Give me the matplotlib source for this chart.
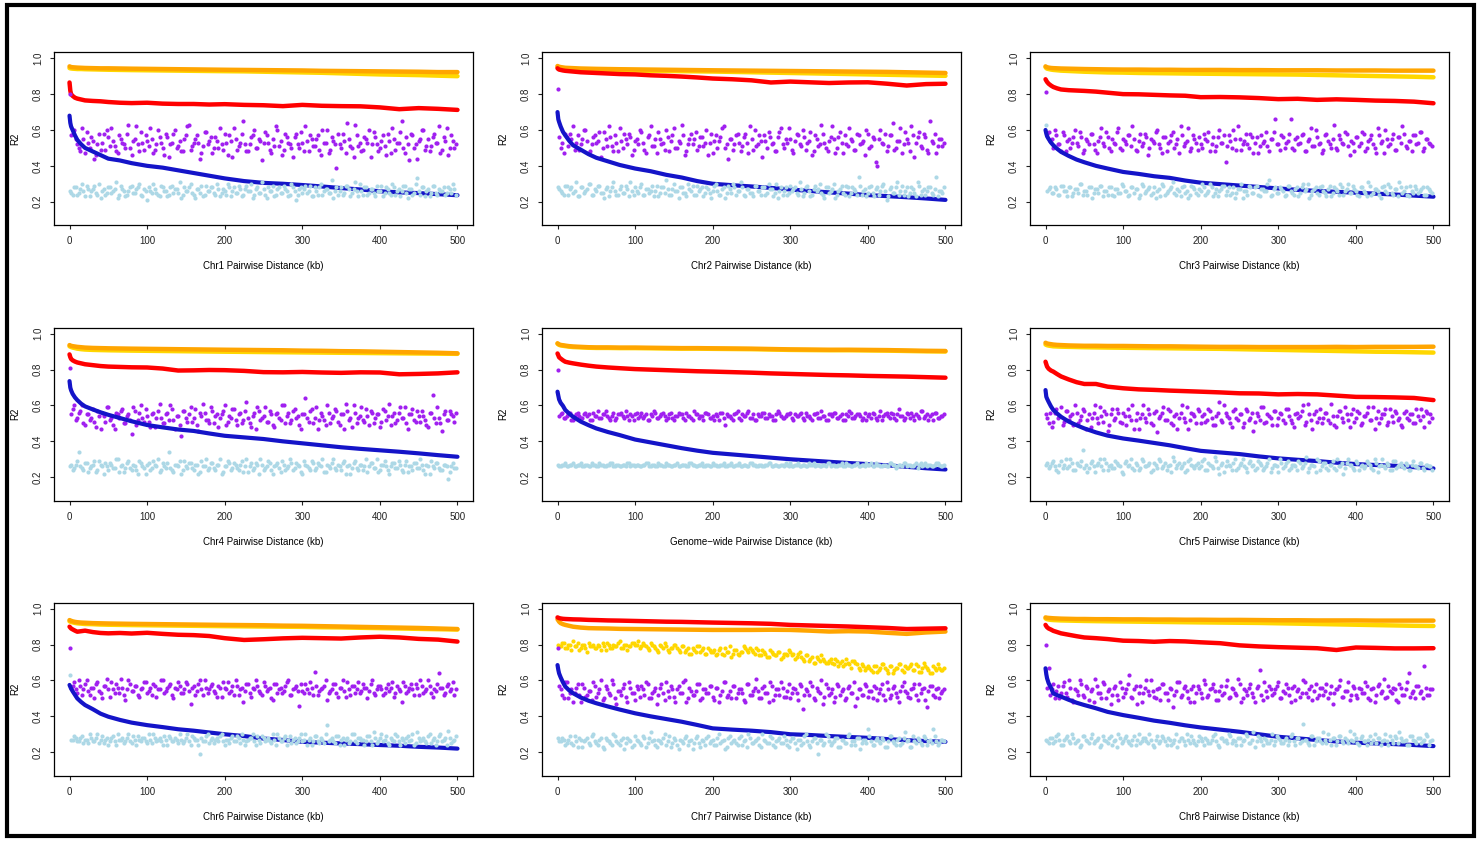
import numpy as np
import matplotlib
matplotlib.use("Agg")
import matplotlib.pyplot as plt
from matplotlib.patches import Rectangle

plt.rcParams['font.family'] = ['Liberation Sans', 'DejaVu Sans']

# pairwise distance (kb) for the smooth series and for the two sets of scattered points
DIST_LINE = [0, 1, 2, 4, 7, 10, 15, 20, 30, 40, 50, 65, 80, 100, 120, 140, 160, 180, 200,
             225, 250, 275, 300, 325, 350, 375, 400, 425, 450, 475, 500]
DIST_CLOUD = list(range(0, 500, 4))
DIST_CLOUD2 = list(range(2, 500, 4))

# ---------------- Chr1 ----------------
CHR1_ORANGE = [0.955, 0.953, 0.951, 0.950, 0.949, 0.948, 0.947, 0.946, 0.945, 0.944, 0.944, 0.943, 0.942, 0.941, 0.940, 0.939,
               0.938, 0.937, 0.936, 0.935, 0.934, 0.933, 0.932, 0.930, 0.929, 0.928, 0.927, 0.926, 0.925, 0.923, 0.923]
CHR1_YELLOW = [0.945, 0.944, 0.943, 0.942, 0.941, 0.940, 0.940, 0.939, 0.938, 0.937, 0.936, 0.935, 0.934, 0.933, 0.932, 0.931,
               0.930, 0.929, 0.928, 0.927, 0.925, 0.923, 0.921, 0.919, 0.916, 0.913, 0.910, 0.908, 0.906, 0.903, 0.900]
CHR1_RED = [0.865, 0.820, 0.800, 0.790, 0.780, 0.775, 0.770, 0.765, 0.762, 0.760, 0.756, 0.752, 0.750, 0.752, 0.747, 0.745,
            0.745, 0.742, 0.744, 0.740, 0.738, 0.733, 0.740, 0.735, 0.733, 0.732, 0.726, 0.716, 0.722, 0.718, 0.712]
CHR1_BLUE = [0.680, 0.640, 0.620, 0.600, 0.570, 0.545, 0.520, 0.500, 0.480, 0.460, 0.440, 0.430, 0.415, 0.400, 0.390, 0.375,
             0.360, 0.345, 0.330, 0.315, 0.305, 0.300, 0.293, 0.285, 0.276, 0.268, 0.258, 0.252, 0.248, 0.242, 0.236]
CHR1_PURPLE = [80, 58, 55, 50, 61, 47, 53, 56, 44, 52, 49, 58, 60, 51, 54, 48, 57, 53, 50, 63, 46, 55, 52, 59, 49,
               54, 61, 47, 52, 56, 50, 58, 45, 53, 60, 51, 48, 55, 62, 49, 53, 57, 44, 51, 59, 54, 47, 56, 50, 52,
               58, 46, 54, 61, 49, 53, 65, 48, 52, 57, 50, 55, 43, 59, 53, 47, 51, 60, 54, 49, 56, 52, 45, 58, 50,
               53, 62, 48, 55, 51, 57, 46, 53, 60, 49, 54, 39, 52, 58, 47, 55, 50, 63, 51, 48, 56, 53, 45, 59, 52,
               50, 57, 46, 54, 61, 49, 53, 65, 47, 52, 58, 50, 44, 55, 60, 51, 48, 56, 53, 62, 49, 54, 46, 57, 50]
CHR1_PURPLE2 = [57, 60, 52, 48, 55, 59, 50, 54, 46, 58, 53, 49, 56, 61, 51, 47, 55, 52, 58, 50, 54, 62, 48, 53, 57,
                51, 55, 49, 60, 53, 46, 56, 52, 58, 50, 54, 48, 57, 63, 51, 55, 53, 47, 59, 52, 56, 50, 54, 61, 49,
                53, 57, 45, 55, 51, 58, 52, 48, 56, 60, 50, 54, 53, 57, 49, 55, 62, 51, 46, 58, 53, 50, 56, 52, 59,
                48, 54, 57, 51, 55, 49, 60, 53, 47, 56, 52, 58, 50, 54, 64, 51, 45, 57, 53, 49, 55, 60, 52, 56, 48,
                54, 51, 58, 47, 55, 53, 59, 50, 56, 43, 57, 52, 54, 60, 49, 55, 51, 58, 53, 47, 56, 61, 50, 54, 52]
CHR1_LIGHTBLUE = [26, 24, 28, 25, 30, 23, 27, 26, 29, 24, 22, 27, 25, 28, 26, 31, 24, 27, 23, 26, 29, 25, 28, 24, 27,
                  21, 26, 30, 25, 23, 28, 26, 24, 29, 27, 25, 22, 28, 26, 30, 24, 27, 25, 23, 29, 26, 28, 24, 27, 25,
                  26, 30, 23, 28, 25, 27, 24, 29, 26, 22, 27, 25, 31, 24, 28, 26, 23, 27, 25, 29, 26, 24, 28, 21, 27,
                  25, 29, 26, 23, 28, 24, 30, 26, 27, 25, 22, 28, 26, 24, 29, 27, 25, 31, 23, 26, 28, 24, 27, 25, 29,
                  26, 23, 28, 25, 30, 24, 27, 26, 29, 22, 27, 25, 33, 24, 28, 26, 23, 29, 25, 27, 26, 24, 28, 25, 27]
CHR1_LIGHTBLUE2 = [25, 28, 24, 27, 26, 29, 23, 27, 25, 30, 26, 24, 28, 25, 27, 22, 29, 26, 24, 28, 25, 27, 30, 23, 26,
                   28, 25, 27, 24, 29, 26, 23, 28, 25, 27, 31, 24, 26, 28, 25, 22, 27, 29, 24, 26, 28, 25, 30, 23, 27,
                   24, 28, 26, 25, 29, 23, 27, 26, 30, 24, 28, 25, 27, 22, 26, 29, 24, 28, 25, 27, 23, 30, 26, 24, 28,
                   27, 25, 29, 23, 26, 28, 24, 27, 25, 32, 26, 24, 28, 25, 29, 23, 27, 26, 30, 24, 28, 25, 27, 23, 26,
                   29, 25, 27, 24, 28, 26, 23, 29, 25, 27, 24, 30, 26, 28, 23, 27, 25, 29, 24, 26, 28, 25, 27, 30, 24]

# ---------------- Chr2 ----------------
CHR2_ORANGE = [0.957, 0.955, 0.953, 0.951, 0.949, 0.947, 0.946, 0.945, 0.943, 0.942, 0.941, 0.940, 0.939, 0.938, 0.937, 0.936,
               0.935, 0.934, 0.933, 0.932, 0.931, 0.930, 0.929, 0.928, 0.927, 0.926, 0.925, 0.924, 0.922, 0.920, 0.918]
CHR2_YELLOW = [0.952, 0.950, 0.948, 0.946, 0.944, 0.942, 0.940, 0.938, 0.936, 0.935, 0.934, 0.933, 0.932, 0.931, 0.930, 0.929,
               0.928, 0.927, 0.926, 0.924, 0.922, 0.920, 0.918, 0.916, 0.914, 0.912, 0.910, 0.908, 0.906, 0.904, 0.902]
CHR2_RED = [0.944, 0.940, 0.937, 0.935, 0.932, 0.930, 0.928, 0.926, 0.922, 0.920, 0.918, 0.915, 0.912, 0.910, 0.905, 0.902,
            0.898, 0.893, 0.887, 0.883, 0.877, 0.865, 0.870, 0.866, 0.862, 0.865, 0.866, 0.858, 0.848, 0.856, 0.858]
CHR2_BLUE = [0.700, 0.660, 0.645, 0.620, 0.590, 0.570, 0.540, 0.515, 0.490, 0.465, 0.445, 0.425, 0.405, 0.385, 0.370, 0.350,
             0.335, 0.315, 0.300, 0.292, 0.285, 0.277, 0.268, 0.260, 0.252, 0.245, 0.237, 0.231, 0.225, 0.218, 0.210]
CHR2_PURPLE = [83, 50, 47, 56, 58, 62, 53, 49, 55, 60, 47, 52, 57, 54, 45, 59, 51, 56, 48, 53, 61, 50, 55, 58, 46,
               54, 52, 59, 49, 56, 62, 51, 47, 55, 53, 60, 48, 57, 50, 54, 63, 46, 52, 58, 55, 49, 56, 51, 60, 53,
               47, 57, 54, 61, 50, 44, 55, 52, 58, 48, 56, 53, 62, 49, 51, 57, 45, 54, 59, 52, 48, 56, 61, 50, 53,
               55, 47, 58, 52, 60, 49, 54, 46, 57, 51, 63, 53, 48, 56, 55, 50, 59, 47, 52, 61, 54, 49, 57, 53, 46,
               58, 51, 55, 40, 60, 52, 48, 57, 64, 50, 54, 47, 59, 53, 62, 45, 56, 51, 58, 49, 65, 53, 47, 55, 51]
CHR2_PURPLE2 = [56, 53, 58, 51, 55, 49, 57, 52, 60, 54, 48, 56, 53, 59, 50, 55, 62, 51, 57, 48, 54, 58, 52, 56, 49,
                55, 60, 53, 47, 57, 51, 55, 59, 52, 49, 56, 54, 61, 50, 53, 57, 48, 55, 52, 59, 51, 56, 53, 46, 58,
                54, 50, 56, 62, 52, 55, 49, 57, 53, 51, 58, 47, 55, 60, 52, 54, 57, 50, 56, 53, 48, 59, 52, 55, 61,
                49, 54, 57, 51, 56, 53, 59, 48, 55, 52, 58, 50, 54, 62, 47, 56, 53, 57, 51, 55, 49, 58, 52, 54, 60,
                50, 56, 42, 55, 53, 58, 51, 57, 49, 54, 61, 52, 55, 48, 57, 53, 59, 50, 56, 47, 54, 58, 51, 55, 53]
CHR2_LIGHTBLUE = [28, 26, 24, 29, 27, 25, 31, 23, 28, 26, 30, 24, 27, 29, 25, 22, 28, 26, 31, 24, 27, 25, 29, 23, 26,
                  28, 25, 30, 24, 27, 26, 23, 29, 25, 28, 32, 24, 27, 26, 22, 28, 25, 30, 26, 24, 29, 27, 23, 28, 25,
                  26, 30, 24, 27, 22, 29, 25, 28, 26, 31, 24, 27, 25, 23, 29, 26, 28, 24, 30, 27, 25, 22, 28, 26, 24,
                  29, 27, 25, 31, 23, 28, 26, 24, 29, 27, 25, 22, 28, 26, 30, 24, 27, 25, 29, 23, 28, 26, 34, 24, 27,
                  25, 29, 23, 28, 26, 30, 21, 27, 25, 28, 24, 29, 26, 23, 28, 25, 31, 24, 27, 26, 28, 24, 34, 26, 25]
CHR2_LIGHTBLUE2 = [27, 25, 29, 24, 28, 26, 23, 28, 25, 27, 30, 24, 26, 29, 25, 27, 23, 28, 26, 24, 29, 25, 27, 31, 24,
                   26, 28, 24, 27, 25, 29, 26, 23, 28, 25, 27, 24, 30, 26, 28, 25, 23, 27, 29, 24, 26, 28, 25, 27, 22,
                   29, 26, 24, 28, 25, 27, 30, 24, 26, 28, 23, 27, 25, 29, 26, 24, 28, 25, 27, 23, 30, 26, 24, 28, 25,
                   26, 28, 24, 27, 25, 29, 23, 27, 26, 30, 24, 28, 25, 27, 22, 26, 29, 24, 28, 25, 27, 24, 29, 26, 23,
                   28, 25, 27, 24, 29, 26, 23, 28, 25, 31, 26, 24, 28, 25, 27, 23, 29, 26, 24, 28, 25, 27, 23, 26, 28]

# ---------------- Chr3 ----------------
CHR3_ORANGE = [0.955, 0.952, 0.950, 0.948, 0.946, 0.945, 0.944, 0.943, 0.942, 0.941, 0.940, 0.939, 0.938, 0.937, 0.937, 0.936,
               0.936, 0.935, 0.935, 0.935, 0.934, 0.934, 0.933, 0.933, 0.933, 0.932, 0.932, 0.932, 0.931, 0.931, 0.931]
CHR3_YELLOW = [0.950, 0.945, 0.942, 0.940, 0.937, 0.935, 0.933, 0.931, 0.929, 0.927, 0.925, 0.923, 0.921, 0.920, 0.918, 0.917,
               0.916, 0.915, 0.914, 0.913, 0.912, 0.911, 0.910, 0.909, 0.907, 0.905, 0.903, 0.901, 0.899, 0.897, 0.894]
CHR3_RED = [0.883, 0.875, 0.868, 0.858, 0.848, 0.840, 0.832, 0.826, 0.822, 0.820, 0.818, 0.814, 0.808, 0.800, 0.799, 0.796,
            0.793, 0.791, 0.783, 0.784, 0.782, 0.778, 0.772, 0.774, 0.768, 0.771, 0.768, 0.764, 0.762, 0.758, 0.749]
CHR3_BLUE = [0.600, 0.580, 0.565, 0.550, 0.530, 0.515, 0.495, 0.478, 0.455, 0.435, 0.420, 0.400, 0.385, 0.366, 0.355, 0.342,
             0.333, 0.318, 0.306, 0.298, 0.290, 0.282, 0.274, 0.266, 0.260, 0.255, 0.250, 0.245, 0.240, 0.234, 0.228]
CHR3_PURPLE = [81, 59, 55, 60, 52, 48, 57, 54, 50, 56, 53, 59, 47, 55, 52, 58, 49, 54, 61, 51, 56, 48, 53, 59, 50,
               55, 52, 57, 62, 49, 54, 51, 58, 46, 55, 53, 60, 50, 56, 48, 54, 59, 52, 47, 57, 53, 61, 50, 55, 49,
               52, 58, 54, 48, 56, 51, 60, 53, 42, 57, 50, 55, 62, 49, 54, 52, 58, 47, 56, 51, 53, 59, 48, 55, 66,
               52, 57, 50, 54, 66, 49, 56, 53, 58, 48, 55, 51, 60, 52, 47, 57, 54, 50, 63, 49, 55, 52, 58, 46, 53,
               56, 51, 59, 48, 54, 57, 50, 61, 53, 47, 55, 52, 58, 49, 56, 62, 51, 54, 48, 57, 53, 59, 50, 55, 52]
CHR3_PURPLE2 = [58, 54, 50, 57, 52, 59, 48, 55, 53, 60, 51, 56, 49, 54, 58, 52, 47, 56, 53, 59, 50, 55, 52, 61, 49,
                54, 57, 51, 55, 48, 58, 53, 56, 50, 54, 59, 52, 47, 56, 53, 57, 50, 55, 62, 51, 54, 48, 57, 53, 56,
                50, 55, 59, 52, 48, 56, 53, 57, 51, 54, 60, 49, 55, 52, 58, 50, 56, 53, 47, 57, 54, 51, 55, 59, 52,
                49, 56, 53, 58, 50, 55, 52, 57, 48, 54, 61, 51, 56, 53, 49, 58, 52, 55, 50, 57, 53, 59, 51, 54, 48,
                56, 53, 58, 50, 55, 52, 47, 57, 54, 60, 51, 55, 49, 56, 53, 58, 50, 54, 57, 52, 59, 48, 55, 53, 51]
CHR3_LIGHTBLUE = [63, 27, 25, 28, 24, 29, 26, 23, 28, 25, 27, 30, 24, 26, 28, 22, 27, 25, 29, 26, 24, 28, 23, 27, 25,
                  29, 26, 24, 28, 27, 22, 30, 25, 27, 24, 28, 26, 23, 29, 25, 27, 31, 24, 26, 28, 25, 22, 29, 27, 24,
                  26, 28, 25, 30, 23, 27, 26, 29, 24, 28, 25, 22, 27, 30, 26, 24, 28, 25, 29, 23, 27, 26, 32, 24, 28,
                  25, 27, 23, 29, 26, 24, 28, 25, 30, 27, 22, 26, 28, 24, 29, 25, 27, 23, 28, 26, 30, 24, 27, 25, 29,
                  26, 23, 28, 25, 31, 24, 27, 26, 22, 29, 25, 28, 24, 27, 31, 25, 28, 23, 26, 29, 25, 27, 24, 28, 26]
CHR3_LIGHTBLUE2 = [26, 28, 25, 27, 24, 29, 26, 28, 23, 27, 25, 30, 26, 24, 28, 25, 27, 29, 23, 26, 28, 24, 27, 25, 30,
                   26, 23, 28, 25, 27, 24, 29, 26, 28, 25, 22, 27, 30, 24, 26, 28, 25, 27, 23, 29, 26, 24, 28, 25, 27,
                   30, 24, 26, 28, 25, 23, 27, 29, 26, 24, 28, 25, 27, 22, 26, 29, 25, 28, 24, 27, 26, 30, 23, 27, 25,
                   28, 26, 24, 29, 25, 27, 23, 28, 26, 30, 24, 27, 25, 28, 26, 23, 29, 25, 27, 24, 28, 26, 30, 25, 27,
                   24, 28, 26, 23, 29, 25, 27, 24, 28, 26, 30, 25, 27, 23, 28, 26, 24, 29, 25, 27, 26, 28, 24, 27, 25]

# ---------------- Chr4 ----------------
CHR4_ORANGE = [0.937, 0.935, 0.933, 0.931, 0.929, 0.927, 0.925, 0.923, 0.921, 0.920, 0.919, 0.918, 0.917, 0.916, 0.915, 0.914,
               0.913, 0.912, 0.911, 0.910, 0.909, 0.908, 0.906, 0.905, 0.903, 0.902, 0.900, 0.898, 0.896, 0.894, 0.891]
CHR4_YELLOW = [0.930, 0.928, 0.926, 0.923, 0.920, 0.917, 0.914, 0.912, 0.910, 0.909, 0.908, 0.907, 0.906, 0.905, 0.904, 0.903,
               0.902, 0.901, 0.900, 0.899, 0.898, 0.897, 0.896, 0.895, 0.894, 0.893, 0.892, 0.891, 0.890, 0.889, 0.888]
CHR4_RED = [0.885, 0.870, 0.860, 0.852, 0.845, 0.840, 0.835, 0.830, 0.825, 0.820, 0.817, 0.815, 0.813, 0.812, 0.806, 0.795,
            0.796, 0.798, 0.797, 0.793, 0.786, 0.785, 0.787, 0.784, 0.782, 0.785, 0.784, 0.774, 0.776, 0.779, 0.785]
CHR4_BLUE = [0.736, 0.700, 0.685, 0.665, 0.645, 0.630, 0.610, 0.595, 0.578, 0.562, 0.548, 0.530, 0.512, 0.491, 0.478, 0.466,
             0.458, 0.444, 0.431, 0.422, 0.413, 0.400, 0.389, 0.378, 0.367, 0.358, 0.350, 0.342, 0.333, 0.323, 0.314]
CHR4_PURPLE = [81, 58, 52, 56, 60, 49, 55, 53, 51, 57, 47, 54, 59, 52, 49, 56, 53, 58, 50, 55, 44, 57, 52, 60, 51,
               54, 48, 56, 53, 61, 50, 55, 52, 58, 47, 54, 43, 57, 51, 59, 53, 49, 56, 61, 52, 50, 57, 54, 48, 55,
               60, 51, 53, 58, 49, 56, 52, 62, 50, 54, 47, 57, 53, 59, 51, 55, 48, 56, 52, 60, 54, 50, 57, 53, 49,
               55, 64, 51, 58, 53, 47, 56, 52, 60, 50, 54, 57, 49, 55, 61, 52, 48, 56, 53, 59, 51, 54, 57, 50, 55,
               48, 58, 52, 61, 54, 50, 56, 53, 59, 47, 55, 52, 57, 51, 54, 49, 56, 66, 50, 53, 46, 57, 52, 55, 51]
CHR4_PURPLE2 = [55, 60, 53, 57, 50, 55, 52, 58, 48, 54, 56, 51, 59, 53, 47, 55, 57, 50, 54, 52, 59, 49, 56, 53, 58,
                51, 55, 48, 57, 53, 50, 56, 60, 52, 54, 49, 57, 53, 55, 51, 58, 46, 54, 56, 52, 59, 50, 55, 53, 57,
                49, 54, 58, 52, 55, 50, 57, 53, 48, 56, 59, 52, 54, 51, 57, 49, 55, 53, 60, 50, 56, 52, 58, 54, 47,
                55, 53, 57, 50, 59, 52, 54, 49, 56, 53, 58, 51, 55, 47, 57, 53, 60, 50, 54, 52, 58, 49, 56, 53, 55,
                51, 57, 54, 49, 56, 52, 59, 53, 50, 55, 58, 51, 54, 57, 52, 48, 56, 53, 59, 50, 55, 52, 57, 54, 56]
CHR4_LIGHTBLUE = [26, 24, 27, 34, 25, 28, 23, 26, 29, 24, 27, 22, 26, 28, 25, 30, 23, 27, 25, 29, 24, 26, 22, 28, 25,
                  27, 24, 29, 26, 23, 28, 25, 34, 24, 27, 26, 22, 29, 25, 28, 24, 27, 23, 26, 30, 25, 28, 24, 27, 22,
                  26, 29, 24, 28, 25, 27, 23, 30, 26, 24, 28, 22, 27, 25, 29, 24, 26, 28, 23, 27, 25, 30, 24, 28, 26,
                  22, 27, 25, 29, 24, 28, 26, 23, 27, 25, 30, 24, 26, 28, 22, 27, 25, 29, 24, 27, 26, 23, 28, 25, 30,
                  24, 27, 26, 22, 28, 25, 29, 24, 27, 23, 26, 28, 25, 30, 24, 27, 22, 26, 28, 25, 24, 27, 19, 26, 25]
CHR4_LIGHTBLUE2 = [27, 25, 29, 26, 24, 28, 25, 27, 23, 29, 26, 28, 24, 27, 25, 30, 26, 23, 28, 25, 27, 24, 29, 26, 22,
                   28, 25, 27, 30, 24, 26, 28, 25, 23, 27, 29, 24, 26, 28, 25, 27, 22, 29, 26, 24, 28, 25, 27, 30, 23,
                   26, 28, 25, 27, 24, 29, 26, 23, 28, 25, 27, 30, 24, 26, 28, 22, 27, 25, 29, 24, 26, 28, 25, 27, 23,
                   29, 26, 24, 28, 25, 27, 30, 23, 26, 28, 25, 27, 24, 29, 26, 22, 28, 25, 27, 24, 30, 26, 28, 25, 23,
                   27, 29, 24, 26, 28, 25, 27, 23, 29, 26, 24, 28, 25, 27, 22, 26, 29, 25, 28, 24, 27, 26, 23, 28, 25]

# ---------------- Genome-wide ----------------
GW_ORANGE = [0.947, 0.944, 0.941, 0.938, 0.936, 0.934, 0.931, 0.929, 0.927, 0.925, 0.924, 0.924, 0.923, 0.923, 0.922, 0.921,
             0.920, 0.920, 0.919, 0.918, 0.917, 0.915, 0.913, 0.912, 0.911, 0.911, 0.910, 0.909, 0.907, 0.905, 0.904]
GW_YELLOW = [0.944, 0.941, 0.938, 0.935, 0.933, 0.931, 0.928, 0.926, 0.924, 0.922, 0.921, 0.921, 0.920, 0.920, 0.919, 0.918,
             0.917, 0.917, 0.916, 0.915, 0.914, 0.912, 0.910, 0.909, 0.908, 0.908, 0.907, 0.906, 0.904, 0.902, 0.901]
GW_RED = [0.890, 0.880, 0.869, 0.862, 0.852, 0.844, 0.839, 0.835, 0.828, 0.822, 0.817, 0.812, 0.808, 0.803, 0.800, 0.797,
          0.794, 0.791, 0.789, 0.786, 0.783, 0.779, 0.776, 0.773, 0.770, 0.768, 0.765, 0.763, 0.761, 0.758, 0.755]
GW_BLUE = [0.677, 0.655, 0.634, 0.615, 0.598, 0.575, 0.555, 0.537, 0.510, 0.490, 0.472, 0.452, 0.435, 0.410, 0.394, 0.378,
           0.362, 0.348, 0.336, 0.327, 0.318, 0.309, 0.300, 0.293, 0.286, 0.279, 0.273, 0.266, 0.258, 0.250, 0.243]
GW_PURPLE = [80, 55, 53, 54, 56, 52, 55, 54, 53, 56, 55, 52, 54, 57, 53, 55, 54, 52, 56, 53, 55, 54, 57, 52, 54,
             55, 53, 56, 54, 52, 55, 57, 53, 54, 56, 52, 55, 53, 54, 56, 55, 52, 54, 53, 57, 55, 54, 52, 56, 53,
             54, 55, 52, 56, 49, 54, 53, 55, 57, 52, 54, 56, 53, 55, 52, 54, 56, 53, 55, 54, 52, 57, 54, 53, 55,
             56, 52, 54, 55, 53, 56, 54, 52, 55, 53, 57, 54, 52, 55, 56, 53, 54, 52, 55, 57, 53, 54, 55, 52, 56,
             54, 53, 55, 52, 57, 54, 56, 53, 55, 52, 58, 54, 53, 55, 56, 52, 54, 57, 53, 55, 54, 52, 56, 53, 54]
GW_PURPLE2 = [54, 56, 53, 55, 52, 54, 56, 53, 55, 54, 52, 56, 54, 53, 55, 57, 53, 54, 52, 55, 56, 53, 54, 55, 52,
              56, 54, 53, 55, 52, 54, 56, 53, 55, 54, 53, 56, 52, 54, 55, 53, 56, 54, 52, 55, 53, 54, 56, 55, 53,
              52, 54, 56, 53, 55, 54, 52, 56, 53, 55, 54, 57, 53, 52, 55, 54, 56, 53, 54, 52, 55, 56, 53, 54, 55,
              53, 55, 54, 56, 52, 54, 53, 55, 56, 53, 54, 52, 55, 54, 56, 53, 55, 52, 54, 56, 53, 55, 54, 53, 52,
              55, 56, 53, 54, 52, 55, 54, 56, 53, 55, 54, 52, 56, 53, 54, 55, 53, 57, 54, 52, 55, 56, 53, 54, 55]
GW_LIGHTBLUE = [27, 26, 27, 26, 27, 28, 26, 27, 26, 27, 26, 28, 27, 26, 27, 26, 27, 28, 26, 27, 26, 27, 26, 28, 27,
                26, 27, 26, 27, 28, 26, 27, 26, 27, 26, 28, 27, 26, 27, 26, 27, 27, 26, 28, 27, 26, 27, 26, 27, 26,
                28, 27, 26, 27, 26, 27, 28, 26, 27, 26, 27, 26, 28, 27, 26, 27, 26, 27, 28, 26, 27, 26, 27, 26, 27,
                28, 26, 27, 26, 27, 26, 28, 27, 26, 27, 26, 27, 28, 26, 27, 26, 27, 26, 28, 27, 26, 27, 26, 27, 26,
                27, 28, 26, 27, 26, 27, 26, 28, 27, 25, 27, 26, 28, 27, 26, 27, 25, 28, 27, 26, 27, 26, 28, 27, 26]
GW_LIGHTBLUE2 = [26, 27, 28, 26, 27, 26, 27, 28, 26, 27, 26, 27, 26, 28, 27, 26, 27, 28, 26, 27, 26, 27, 28, 26, 27,
                 27, 26, 27, 28, 26, 27, 26, 28, 27, 26, 27, 26, 27, 28, 26, 27, 26, 28, 27, 26, 27, 28, 26, 27, 26,
                 27, 26, 27, 28, 26, 27, 26, 27, 28, 26, 27, 26, 28, 27, 26, 27, 26, 27, 28, 26, 27, 26, 27, 28, 26,
                 26, 27, 28, 26, 27, 26, 27, 28, 27, 26, 27, 26, 28, 27, 26, 27, 28, 26, 27, 26, 27, 28, 26, 27, 28,
                 27, 26, 28, 27, 26, 27, 26, 28, 27, 26, 27, 28, 26, 27, 26, 28, 27, 26, 28, 27, 26, 27, 28, 26, 27]

# ---------------- Chr5 ----------------
CHR5_ORANGE = [0.950, 0.948, 0.946, 0.944, 0.942, 0.940, 0.938, 0.937, 0.935, 0.934, 0.933, 0.933, 0.932, 0.932, 0.931, 0.930,
               0.930, 0.929, 0.928, 0.927, 0.927, 0.926, 0.926, 0.926, 0.926, 0.927, 0.926, 0.927, 0.927, 0.927, 0.928]
CHR5_YELLOW = [0.940, 0.938, 0.936, 0.934, 0.932, 0.930, 0.929, 0.928, 0.927, 0.926, 0.925, 0.924, 0.923, 0.922, 0.921, 0.920,
               0.919, 0.918, 0.917, 0.916, 0.914, 0.912, 0.910, 0.908, 0.906, 0.904, 0.902, 0.900, 0.899, 0.897, 0.895]
CHR5_RED = [0.844, 0.830, 0.817, 0.805, 0.795, 0.789, 0.775, 0.762, 0.745, 0.730, 0.720, 0.720, 0.705, 0.696, 0.690, 0.687,
            0.683, 0.680, 0.677, 0.673, 0.668, 0.667, 0.662, 0.664, 0.662, 0.655, 0.648, 0.647, 0.645, 0.642, 0.630]
CHR5_BLUE = [0.686, 0.649, 0.638, 0.620, 0.595, 0.575, 0.555, 0.537, 0.510, 0.490, 0.472, 0.450, 0.432, 0.416, 0.404, 0.391,
             0.378, 0.362, 0.347, 0.338, 0.329, 0.316, 0.305, 0.297, 0.290, 0.281, 0.273, 0.268, 0.264, 0.256, 0.249]
CHR5_PURPLE = [55, 50, 48, 56, 53, 59, 51, 57, 54, 49, 56, 52, 58, 47, 55, 53, 60, 50, 54, 57, 46, 55, 52, 58, 51,
               56, 49, 54, 60, 52, 47, 55, 53, 58, 50, 56, 45, 54, 59, 52, 57, 49, 55, 53, 60, 51, 47, 56, 54, 58,
               50, 55, 52, 57, 49, 54, 62, 51, 56, 53, 48, 58, 52, 55, 50, 57, 53, 46, 56, 52, 59, 51, 54, 49, 57,
               53, 55, 50, 58, 52, 48, 56, 54, 60, 51, 55, 47, 57, 53, 50, 56, 52, 61, 49, 54, 57, 51, 55, 48, 58,
               53, 56, 50, 54, 59, 52, 47, 57, 53, 55, 49, 58, 51, 56, 53, 48, 57, 52, 55, 50, 54, 58, 48, 56, 55]
CHR5_PURPLE2 = [53, 56, 51, 58, 54, 49, 57, 52, 55, 60, 50, 54, 57, 52, 48, 56, 53, 59, 51, 55, 49, 58, 53, 56, 50,
                54, 58, 52, 47, 56, 53, 60, 51, 55, 49, 57, 53, 56, 52, 58, 50, 54, 47, 56, 53, 59, 52, 55, 50, 57,
                54, 51, 58, 53, 49, 56, 52, 60, 54, 50, 57, 53, 55, 48, 58, 52, 56, 51, 54, 59, 50, 55, 53, 57, 49,
                56, 52, 58, 54, 50, 55, 53, 57, 49, 61, 52, 55, 51, 58, 53, 56, 50, 54, 48, 57, 53, 59, 52, 55, 51,
                57, 49, 54, 56, 52, 59, 53, 50, 55, 58, 51, 54, 57, 52, 49, 56, 53, 55, 50, 58, 52, 54, 57, 51, 53]
CHR5_LIGHTBLUE = [27, 25, 28, 26, 23, 29, 27, 25, 30, 24, 28, 26, 35, 27, 25, 29, 23, 28, 26, 30, 24, 27, 25, 28, 26,
                  22, 29, 27, 25, 28, 24, 30, 26, 27, 23, 28, 25, 29, 26, 24, 27, 31, 25, 28, 26, 23, 29, 27, 25, 28,
                  26, 30, 24, 27, 25, 29, 22, 28, 26, 27, 24, 30, 25, 28, 26, 23, 29, 27, 25, 28, 24, 26, 30, 25, 27,
                  23, 28, 26, 29, 25, 27, 24, 28, 26, 31, 25, 27, 23, 29, 26, 28, 24, 27, 25, 30, 26, 22, 28, 27, 25,
                  29, 24, 27, 26, 28, 25, 30, 23, 27, 26, 28, 24, 29, 25, 27, 26, 28, 24, 27, 26, 25, 28, 24, 27, 26]
CHR5_LIGHTBLUE2 = [28, 26, 29, 24, 27, 25, 30, 26, 28, 24, 27, 29, 25, 23, 28, 26, 27, 30, 24, 28, 26, 25, 29, 27, 23,
                   28, 26, 30, 24, 27, 25, 29, 26, 28, 24, 27, 30, 25, 28, 26, 23, 29, 27, 25, 28, 24, 30, 26, 27, 25,
                   29, 24, 28, 26, 31, 25, 27, 23, 29, 26, 28, 24, 27, 30, 25, 28, 26, 24, 29, 27, 25, 28, 23, 27, 26,
                   30, 25, 28, 24, 27, 26, 29, 25, 28, 23, 27, 26, 30, 24, 28, 25, 27, 29, 24, 26, 28, 25, 30, 27, 24,
                   28, 26, 25, 29, 27, 24, 28, 26, 30, 25, 27, 24, 29, 26, 28, 25, 27, 24, 29, 26, 28, 25, 27, 26, 24]

# ---------------- Chr6 ----------------
CHR6_ORANGE = [0.937, 0.935, 0.933, 0.930, 0.927, 0.925, 0.923, 0.922, 0.920, 0.919, 0.918, 0.917, 0.916, 0.915, 0.914, 0.913,
               0.912, 0.911, 0.910, 0.909, 0.908, 0.906, 0.905, 0.903, 0.901, 0.899, 0.897, 0.895, 0.893, 0.890, 0.887]
CHR6_YELLOW = [0.930, 0.928, 0.926, 0.924, 0.921, 0.919, 0.917, 0.915, 0.914, 0.912, 0.911, 0.910, 0.909, 0.908, 0.907, 0.906,
               0.905, 0.904, 0.903, 0.902, 0.901, 0.900, 0.899, 0.897, 0.896, 0.894, 0.892, 0.890, 0.888, 0.886, 0.884]
CHR6_RED = [0.900, 0.895, 0.890, 0.885, 0.878, 0.872, 0.875, 0.878, 0.870, 0.865, 0.863, 0.865, 0.862, 0.866, 0.860, 0.855,
            0.853, 0.848, 0.836, 0.826, 0.830, 0.835, 0.838, 0.836, 0.834, 0.840, 0.844, 0.840, 0.832, 0.828, 0.817]
CHR6_BLUE = [0.575, 0.565, 0.555, 0.540, 0.520, 0.500, 0.480, 0.463, 0.440, 0.415, 0.398, 0.380, 0.365, 0.351, 0.340, 0.328,
             0.320, 0.310, 0.300, 0.290, 0.276, 0.268, 0.258, 0.253, 0.249, 0.245, 0.240, 0.236, 0.230, 0.226, 0.220]
CHR6_PURPLE = [78, 57, 55, 60, 52, 58, 54, 56, 50, 59, 53, 57, 61, 51, 55, 58, 53, 56, 49, 60, 54, 57, 52, 55, 59,
               53, 56, 58, 51, 55, 60, 54, 57, 52, 56, 59, 53, 55, 58, 47, 57, 54, 60, 52, 56, 55, 58, 53, 57, 51,
               56, 59, 54, 52, 57, 55, 48, 58, 53, 56, 60, 54, 52, 57, 55, 50, 58, 53, 56, 54, 59, 52, 55, 57, 46,
               54, 58, 53, 56, 65, 52, 55, 57, 49, 54, 58, 53, 56, 60, 51, 55, 57, 53, 59, 54, 56, 50, 58, 53, 55,
               57, 52, 56, 54, 59, 53, 55, 48, 57, 54, 58, 52, 56, 60, 53, 55, 57, 51, 54, 64, 56, 53, 58, 55, 52]
CHR6_PURPLE2 = [56, 59, 53, 57, 55, 60, 52, 56, 58, 54, 50, 57, 55, 59, 53, 56, 61, 52, 55, 58, 54, 57, 51, 56, 59,
                54, 52, 57, 55, 60, 53, 56, 58, 50, 55, 57, 53, 59, 54, 56, 52, 58, 55, 60, 53, 57, 54, 51, 56, 59,
                55, 53, 57, 60, 52, 56, 54, 58, 51, 55, 57, 53, 59, 54, 56, 49, 58, 55, 53, 57, 60, 52, 56, 54, 58,
                53, 55, 59, 52, 57, 54, 56, 60, 53, 55, 58, 51, 56, 54, 59, 52, 57, 55, 53, 58, 56, 54, 60, 52, 57,
                55, 53, 58, 56, 51, 57, 54, 59, 53, 56, 55, 58, 52, 57, 54, 60, 53, 55, 58, 56, 52, 57, 54, 59, 55]
CHR6_LIGHTBLUE = [63, 27, 28, 26, 29, 27, 25, 28, 26, 30, 27, 25, 28, 26, 29, 24, 27, 28, 26, 30, 25, 27, 29, 26, 28,
                  25, 27, 30, 26, 28, 24, 27, 29, 26, 28, 25, 27, 26, 30, 24, 28, 27, 19, 26, 29, 25, 28, 27, 26, 30,
                  24, 27, 28, 26, 29, 25, 27, 26, 28, 30, 24, 27, 29, 26, 28, 25, 27, 30, 26, 28, 24, 29, 27, 25, 28,
                  26, 30, 27, 24, 29, 26, 28, 25, 35, 27, 26, 29, 24, 28, 27, 25, 30, 26, 28, 27, 24, 29, 26, 31, 25,
                  28, 26, 29, 24, 27, 30, 26, 28, 25, 29, 27, 24, 31, 26, 28, 25, 30, 27, 24, 29, 26, 28, 32, 25, 27]
CHR6_LIGHTBLUE2 = [27, 29, 26, 28, 25, 27, 30, 26, 28, 25, 29, 27, 24, 28, 26, 30, 27, 25, 28, 26, 29, 24, 27, 28, 26,
                   30, 25, 28, 27, 26, 29, 24, 28, 26, 27, 30, 25, 28, 26, 29, 27, 24, 28, 26, 30, 27, 25, 28, 29, 26,
                   27, 25, 29, 26, 28, 30, 24, 27, 28, 26, 29, 25, 28, 27, 26, 30, 24, 28, 26, 29, 27, 25, 28, 26, 30,
                   27, 24, 28, 26, 29, 25, 27, 30, 26, 28, 25, 29, 27, 24, 28, 26, 30, 25, 28, 27, 26, 29, 24, 28, 26,
                   30, 27, 25, 28, 26, 29, 24, 27, 28, 26, 30, 25, 28, 27, 26, 29, 25, 28, 26, 30, 27, 24, 28, 26, 29]

# ---------------- Chr7 ----------------
CHR7_ORANGE = [0.941, 0.935, 0.928, 0.920, 0.914, 0.910, 0.905, 0.900, 0.895, 0.892, 0.891, 0.890, 0.888, 0.887, 0.886, 0.885,
               0.884, 0.883, 0.882, 0.882, 0.882, 0.883, 0.882, 0.878, 0.873, 0.875, 0.873, 0.866, 0.860, 0.868, 0.873]
# yellow is noisy in Chr7, so it is given at every scatter distance
CHR7_YELLOW = [80, 79, 81, 78, 80, 82, 79, 77, 80, 78, 81, 79, 78,
               80, 77, 79, 81, 78, 80, 79, 82, 78, 80, 79, 81, 80,
               82, 79, 80, 78, 81, 79, 77, 80, 78, 79, 76, 78,
               80, 77, 79, 76, 78, 75, 77, 79, 76, 78, 75, 77, 76,
               74, 77, 75, 78, 76, 73, 77, 75, 76, 79, 77, 78,
               76, 78, 74, 77, 75, 73, 76, 74, 76, 72, 75, 74, 76,
               75, 73, 76, 72, 74, 71, 73, 70, 72, 74, 71, 70,
               72, 69, 71, 70, 68, 72, 69, 71, 70, 67, 69, 66, 68,
               66, 68, 65, 67, 69, 66, 68, 64, 67, 69, 66, 68,
               67, 69, 66, 68, 65, 70, 67, 64, 68, 66, 67, 66]
CHR7_YELLOW2 = [79, 81, 78, 80, 77, 79, 81, 78, 80, 76, 79, 80, 78,
                79, 81, 77, 80, 78, 79, 81, 78, 80, 77, 79, 81,
                80, 78, 81, 79, 77, 80, 78, 76, 79, 81, 77, 78, 80,
                78, 76, 79, 77, 75, 78, 76, 79, 77, 75, 78, 76,
                77, 75, 78, 74, 76, 79, 75, 77, 74, 76, 78, 76, 77,
                75, 77, 74, 76, 73, 77, 75, 74, 76, 73, 75, 77,
                74, 72, 75, 73, 71, 74, 72, 70, 73, 71, 72, 70, 71,
                70, 72, 68, 71, 69, 70, 67, 71, 69, 66, 68, 67,
                67, 65, 68, 66, 69, 67, 64, 68, 66, 67, 69, 65, 67,
                68, 66, 69, 65, 67, 68, 66, 64, 67, 69, 66, 67]
CHR7_RED = [0.952, 0.950, 0.948, 0.946, 0.944, 0.943, 0.942, 0.941, 0.940, 0.938, 0.937, 0.935, 0.934, 0.932, 0.930, 0.928,
            0.927, 0.925, 0.923, 0.921, 0.919, 0.916, 0.910, 0.907, 0.904, 0.901, 0.897, 0.893, 0.887, 0.889, 0.891]
CHR7_BLUE = [0.686, 0.660, 0.640, 0.618, 0.590, 0.566, 0.545, 0.529, 0.505, 0.487, 0.473, 0.455, 0.438, 0.417, 0.400, 0.385,
             0.370, 0.352, 0.333, 0.326, 0.320, 0.312, 0.300, 0.296, 0.290, 0.285, 0.280, 0.273, 0.267, 0.262, 0.258]
CHR7_PURPLE = [78, 55, 50, 59, 53, 48, 56, 52, 58, 51, 54, 49, 57, 53, 60, 50, 55, 52, 58, 47, 54, 56, 51, 59, 53,
               49, 55, 57, 52, 58, 50, 54, 47, 56, 53, 59, 51, 55, 48, 57, 53, 60, 50, 54, 52, 58, 49, 55, 53, 57,
               51, 56, 48, 54, 59, 52, 50, 57, 53, 55, 49, 58, 52, 54, 61, 50, 56, 53, 48, 57, 52, 55, 59, 51, 54,
               50, 56, 53, 58, 44, 55, 52, 57, 49, 54, 60, 51, 56, 53, 48, 58, 52, 55, 50, 57, 53, 46, 55, 52, 58,
               51, 54, 57, 49, 55, 52, 59, 50, 56, 53, 48, 57, 54, 51, 55, 58, 49, 53, 56, 45, 57, 52, 55, 50, 54]
CHR7_PURPLE2 = [57, 52, 59, 50, 55, 53, 58, 48, 56, 52, 54, 59, 51, 55, 49, 57, 53, 60, 50, 54, 52, 58, 48, 56, 53,
                57, 51, 55, 59, 50, 53, 56, 52, 58, 49, 54, 57, 51, 55, 53, 59, 48, 56, 52, 54, 58, 50, 55, 53, 57,
                49, 56, 52, 59, 51, 54, 57, 50, 55, 53, 48, 58, 52, 56, 54, 50, 57, 53, 59, 49, 55, 52, 56, 51, 58,
                53, 55, 49, 57, 52, 54, 59, 50, 56, 53, 47, 58, 52, 55, 51, 57, 54, 49, 56, 53, 59, 50, 55, 52, 57,
                54, 50, 56, 53, 58, 49, 55, 52, 57, 51, 54, 59, 53, 50, 56, 52, 58, 55, 49, 54, 57, 51, 56, 53, 55]
CHR7_LIGHTBLUE = [28, 26, 27, 25, 29, 24, 26, 28, 23, 27, 25, 29, 26, 24, 28, 22, 27, 25, 30, 26, 24, 28, 25, 27, 23,
                  29, 26, 24, 28, 25, 31, 27, 23, 26, 28, 24, 29, 25, 27, 22, 26, 28, 24, 27, 25, 29, 23, 26, 28, 25,
                  27, 24, 30, 26, 22, 28, 25, 27, 24, 29, 26, 23, 28, 25, 27, 24, 30, 26, 25, 28, 23, 27, 25, 29, 24,
                  26, 28, 22, 27, 25, 30, 24, 26, 28, 19, 27, 25, 29, 24, 26, 28, 23, 27, 25, 30, 26, 24, 28, 25, 27,
                  33, 26, 24, 28, 25, 27, 23, 29, 26, 24, 28, 25, 31, 27, 23, 26, 28, 25, 29, 24, 27, 33, 26, 25, 27]
CHR7_LIGHTBLUE2 = [26, 28, 24, 27, 25, 29, 23, 27, 26, 28, 24, 30, 25, 27, 23, 28, 26, 24, 29, 25, 27, 22, 28, 26, 24,
                   27, 25, 29, 23, 28, 26, 24, 27, 25, 30, 26, 23, 28, 24, 27, 25, 29, 26, 22, 28, 25, 27, 24, 29, 26,
                   24, 28, 25, 27, 23, 29, 26, 25, 28, 24, 27, 30, 25, 26, 28, 23, 27, 25, 29, 24, 26, 28, 25, 27, 23,
                   28, 25, 27, 24, 29, 26, 23, 28, 25, 27, 24, 30, 26, 25, 28, 23, 27, 25, 29, 24, 26, 28, 22, 27, 25,
                   29, 24, 27, 26, 28, 23, 26, 29, 25, 27, 24, 28, 26, 23, 29, 25, 27, 24, 28, 26, 25, 29, 24, 27, 26]

# ---------------- Chr8 ----------------
CHR8_ORANGE = [0.952, 0.951, 0.950, 0.949, 0.948, 0.947, 0.946, 0.945, 0.944, 0.943, 0.943, 0.942, 0.942, 0.941, 0.941, 0.940,
               0.940, 0.939, 0.939, 0.938, 0.938, 0.937, 0.936, 0.936, 0.935, 0.935, 0.935, 0.934, 0.934, 0.934, 0.934]
CHR8_YELLOW = [0.946, 0.944, 0.942, 0.940, 0.938, 0.937, 0.936, 0.935, 0.934, 0.933, 0.932, 0.931, 0.930, 0.929, 0.928, 0.927,
               0.926, 0.925, 0.924, 0.923, 0.922, 0.921, 0.919, 0.917, 0.915, 0.913, 0.911, 0.909, 0.907, 0.905, 0.904]
CHR8_RED = [0.910, 0.903, 0.897, 0.890, 0.884, 0.877, 0.870, 0.863, 0.855, 0.847, 0.840, 0.836, 0.831, 0.822, 0.820, 0.816,
            0.820, 0.818, 0.813, 0.808, 0.796, 0.790, 0.786, 0.783, 0.780, 0.770, 0.784, 0.782, 0.779, 0.779, 0.780]
CHR8_BLUE = [0.668, 0.635, 0.612, 0.585, 0.560, 0.528, 0.518, 0.510, 0.492, 0.476, 0.463, 0.445, 0.425, 0.407, 0.392, 0.376,
             0.364, 0.350, 0.338, 0.326, 0.314, 0.300, 0.286, 0.277, 0.268, 0.260, 0.253, 0.249, 0.245, 0.240, 0.234]
CHR8_PURPLE = [80, 67, 55, 50, 57, 53, 59, 51, 56, 48, 54, 60, 52, 57, 49, 55, 61, 53, 50, 58, 54, 47, 56, 52, 59,
               51, 55, 63, 50, 57, 53, 48, 56, 54, 60, 51, 55, 49, 58, 53, 56, 45, 54, 59, 52, 57, 50, 55, 48, 57,
               53, 60, 51, 55, 58, 49, 54, 52, 57, 50, 56, 53, 61, 48, 55, 52, 58, 51, 56, 66, 49, 54, 57, 52, 55,
               59, 50, 53, 56, 48, 57, 54, 51, 60, 53, 55, 49, 58, 52, 56, 54, 50, 57, 53, 55, 60, 51, 54, 49, 57,
               52, 56, 53, 59, 50, 55, 48, 57, 53, 61, 51, 54, 56, 49, 58, 52, 55, 64, 53, 50, 57, 54, 68, 52, 55]
CHR8_PURPLE2 = [56, 52, 58, 54, 50, 57, 53, 60, 49, 55, 52, 58, 51, 56, 54, 48, 57, 53, 59, 50, 55, 52, 57, 49, 56,
                53, 58, 51, 55, 47, 57, 53, 60, 52, 54, 50, 56, 58, 53, 49, 55, 52, 59, 51, 56, 54, 48, 57, 53, 55,
                50, 58, 52, 56, 54, 49, 57, 53, 60, 51, 55, 52, 58, 50, 54, 56, 53, 48, 57, 52, 59, 51, 55, 53, 57,
                50, 54, 58, 52, 56, 49, 55, 53, 59, 51, 57, 54, 50, 56, 52, 58, 53, 47, 55, 57, 51, 54, 59, 52, 56,
                50, 55, 53, 57, 49, 56, 52, 58, 54, 50, 57, 53, 55, 48, 56, 52, 59, 51, 54, 57, 53, 50, 56, 52, 55]
CHR8_LIGHTBLUE = [27, 25, 28, 26, 30, 24, 27, 29, 25, 28, 26, 23, 29, 27, 25, 30, 26, 28, 24, 27, 25, 29, 26, 23, 28,
                  26, 29, 25, 27, 24, 30, 26, 28, 25, 27, 23, 29, 26, 28, 24, 27, 25, 30, 26, 28, 24, 27, 29, 25, 26,
                  28, 24, 27, 25, 29, 26, 23, 28, 27, 30, 25, 26, 28, 24, 27, 29, 25, 31, 26, 28, 24, 27, 25, 30, 26,
                  28, 25, 27, 24, 29, 26, 28, 25, 36, 27, 24, 29, 26, 28, 25, 27, 30, 24, 28, 26, 29, 25, 27, 32, 26,
                  28, 24, 29, 26, 27, 25, 30, 28, 24, 27, 26, 29, 25, 28, 31, 26, 27, 24, 29, 26, 28, 25, 27, 29, 26]
CHR8_LIGHTBLUE2 = [26, 28, 25, 29, 27, 24, 28, 26, 30, 25, 27, 24, 29, 26, 28, 25, 27, 23, 29, 26, 28, 24, 27, 30, 25,
                   28, 26, 24, 29, 27, 25, 28, 26, 30, 24, 27, 25, 29, 26, 28, 24, 27, 23, 28, 26, 30, 25, 27, 24, 29,
                   26, 28, 25, 27, 30, 24, 28, 26, 25, 29, 27, 24, 28, 26, 30, 25, 27, 23, 29, 26, 28, 25, 27, 24, 29,
                   27, 25, 28, 26, 30, 24, 28, 26, 27, 25, 29, 24, 28, 26, 31, 25, 27, 28, 24, 29, 26, 28, 25, 27, 30,
                   25, 28, 26, 24, 29, 27, 25, 28, 26, 30, 24, 27, 29, 25, 28, 26, 24, 29, 27, 25, 28, 26, 30, 24, 27]

PANEL_NAMES = ["Chr1", "Chr2", "Chr3", "Chr4", "Genome\u2212wide", "Chr5", "Chr6", "Chr7", "Chr8"]
PANEL_DATA = [
    (CHR1_ORANGE, CHR1_YELLOW, CHR1_RED, CHR1_BLUE, CHR1_PURPLE, CHR1_PURPLE2, CHR1_LIGHTBLUE, CHR1_LIGHTBLUE2),
    (CHR2_ORANGE, CHR2_YELLOW, CHR2_RED, CHR2_BLUE, CHR2_PURPLE, CHR2_PURPLE2, CHR2_LIGHTBLUE, CHR2_LIGHTBLUE2),
    (CHR3_ORANGE, CHR3_YELLOW, CHR3_RED, CHR3_BLUE, CHR3_PURPLE, CHR3_PURPLE2, CHR3_LIGHTBLUE, CHR3_LIGHTBLUE2),
    (CHR4_ORANGE, CHR4_YELLOW, CHR4_RED, CHR4_BLUE, CHR4_PURPLE, CHR4_PURPLE2, CHR4_LIGHTBLUE, CHR4_LIGHTBLUE2),
    (GW_ORANGE, GW_YELLOW, GW_RED, GW_BLUE, GW_PURPLE, GW_PURPLE2, GW_LIGHTBLUE, GW_LIGHTBLUE2),
    (CHR5_ORANGE, CHR5_YELLOW, CHR5_RED, CHR5_BLUE, CHR5_PURPLE, CHR5_PURPLE2, CHR5_LIGHTBLUE, CHR5_LIGHTBLUE2),
    (CHR6_ORANGE, CHR6_YELLOW, CHR6_RED, CHR6_BLUE, CHR6_PURPLE, CHR6_PURPLE2, CHR6_LIGHTBLUE, CHR6_LIGHTBLUE2),
    (CHR7_ORANGE, CHR7_YELLOW, CHR7_RED, CHR7_BLUE, CHR7_PURPLE, CHR7_PURPLE2, CHR7_LIGHTBLUE, CHR7_LIGHTBLUE2),
    (CHR8_ORANGE, CHR8_YELLOW, CHR8_RED, CHR8_BLUE, CHR8_PURPLE, CHR8_PURPLE2, CHR8_LIGHTBLUE, CHR8_LIGHTBLUE2),
]
EXTRA_YELLOW = {"Chr7": CHR7_YELLOW2}

C_ORANGE = "#ffa500"
C_YELLOW = "#ffd700"
C_RED = "#ff0000"
C_BLUE = "#1414c8"
C_PURPLE = "#a020f0"
C_LIGHTBLUE = "#add8e6"

W, H = 1484, 844
fig = plt.figure(figsize=(W / 100, H / 100), dpi=100)

col_left = [54, 542, 1030]
row_top = [52, 327.5, 602.5]
ax_w, ax_h = 419, 173

line_kw = dict(lw=3.2, solid_capstyle='round', solid_joinstyle='round')
dot_kw = dict(ls='none', marker='o', ms=3.0, mew=0)

for i, name in enumerate(PANEL_NAMES):
    orange, yellow, red, blue, purple, purple2, lightblue, lightblue2 = PANEL_DATA[i]
    r, c = divmod(i, 3)
    ax = fig.add_axes([col_left[c] / W, 1 - (row_top[r] + ax_h) / H, ax_w / W, ax_h / H])

    if len(yellow) == len(DIST_CLOUD):
        ax.plot(DIST_CLOUD, np.array(yellow) / 100, color=C_YELLOW, **dot_kw)
        ax.plot(DIST_CLOUD2, np.array(EXTRA_YELLOW[name]) / 100, color=C_YELLOW, **dot_kw)
    else:
        ax.plot(DIST_LINE, yellow, color=C_YELLOW, **line_kw)
    ax.plot(DIST_LINE, orange, color=C_ORANGE, **line_kw)
    ax.plot(DIST_LINE, red, color=C_RED, **line_kw)
    ax.plot(DIST_CLOUD, np.array(purple) / 100, color=C_PURPLE, **dot_kw)
    ax.plot(DIST_CLOUD2, np.array(purple2) / 100, color=C_PURPLE, **dot_kw)
    ax.plot(DIST_LINE, blue, color=C_BLUE, lw=3.0, solid_capstyle='round', solid_joinstyle='round')
    ax.plot(DIST_CLOUD, np.array(lightblue) / 100, color=C_LIGHTBLUE, **dot_kw)
    ax.plot(DIST_CLOUD2, np.array(lightblue2) / 100, color=C_LIGHTBLUE, **dot_kw)

    ax.set_xlim(-20, 520)
    ax.set_ylim(0.07, 1.035)
    ax.set_xticks([0, 100, 200, 300, 400, 500])
    ax.set_yticks([0.2, 0.4, 0.6, 0.8, 1.0])
    ax.set_yticklabels(["0.2", "0.4", "0.6", "0.8", "1.0"], rotation=90, va='center')
    ax.tick_params(direction='out', length=3, width=0.8, labelsize=7, pad=5, colors='#222222')
    for sp in ax.spines.values():
        sp.set_linewidth(0.9)
    ax.set_xlabel(name + " Pairwise Distance (kb)", fontsize=7, labelpad=11)
    ax.set_ylabel("R2", fontsize=7, labelpad=9)

# thick black frame around the whole picture
fig.add_artist(Rectangle((7 / W, 1 - 836 / H), (1474 - 7) / W, (836 - 5) / H,
                         transform=fig.transFigure, fill=False, edgecolor='black', lw=3.0))

fig.savefig("out.png", dpi=100)
